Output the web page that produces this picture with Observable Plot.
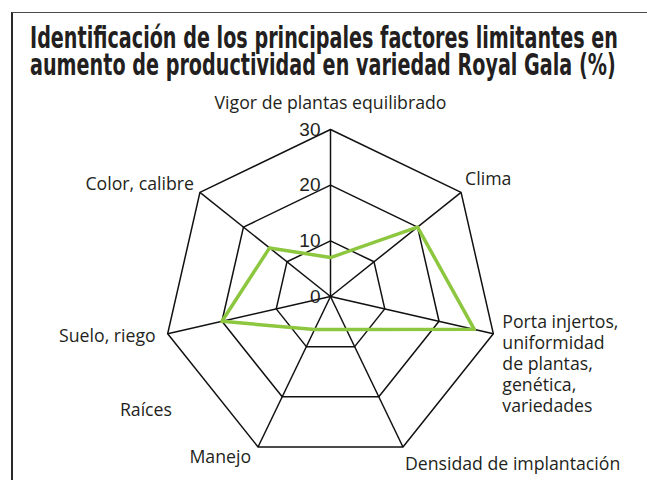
<!DOCTYPE html>
<html>
<head>
<meta charset="utf-8">
<script src="https://cdn.jsdelivr.net/npm/d3@7"></script>
<script src="https://cdn.jsdelivr.net/npm/@observablehq/plot@0.6"></script>
<style>
  html, body { margin: 0; padding: 0; background: #fff; }
  #wrap { position: relative; width: 647px; height: 480px; overflow: hidden; background: #fff; }
  #frame { position: absolute; left: 11px; top: 12px; width: 700px; height: 500px;
           border-top: 1.5px solid #4a4a4a; border-left: 2px solid #2a2a2a; }
  #title { position: relative; height: 88px; }
  .tl { position: absolute; left: 30px; white-space: nowrap; transform-origin: 0 0;
        font-family: "Liberation Sans Narrow", "DejaVu Sans Condensed", "Liberation Sans", sans-serif;
        font-weight: bold; font-size: 30px; line-height: 27px; color: #231f20; }
  #chart { position: relative; }
</style>
</head>
<body>
<div id="wrap">
  <div id="frame"></div>
  <div id="title">
    <div class="tl" id="t1" style="top:24px">Identificación de los principales factores limitantes en</div>
    <div class="tl" id="t2" style="top:51px">aumento de productividad en variedad Royal Gala (%)</div>
  </div>
  <div id="chart"></div>
</div>
<script>
// ---- data ----
const categories = [
  "Vigor de plantas equilibrado",
  "Clima",
  "Porta injertos,\nuniformidad\nde plantas,\ngenética,\nvariedades",
  "Densidad de implantación",
  "Manejo",
  "Suelo, riego",
  "Color, calibre"
];
const values = [7, 20, 26.5, 6.6, 6.6, 20, 14];
const tickValues = [0, 10, 20, 30];
const extraLabel = "Raíces";

// ---- title fitting ----
(function () {
  const t1 = document.getElementById("t1"), t2 = document.getElementById("t2");
  const s = 588 / t1.getBoundingClientRect().width;
  t1.style.transform = `scaleX(${s})`;
  t2.style.transform = `scaleX(${s})`;
})();

// ---- layout ----
const W = 647, H = 392, cx = 330, cy = 208, Rpx = 167, maxV = 30;
const k = maxV / Rpx; // data units per pixel
const n = categories.length;
const ang = i => (i * 2 * Math.PI) / n;
const px = (i, v) => v * Math.sin(ang(i));
const py = (i, v) => v * Math.cos(ang(i));

const rings = [];
for (const t of tickValues.filter(t => t > 0))
  for (let i = 0; i < n; i++) rings.push({ ring: t, x: px(i, t), y: py(i, t) });

const spokes = categories.map((c, i) => ({ x2: px(i, maxV), y2: py(i, maxV) }));
const series = values.map((v, i) => ({ x: px(i, v), y: py(i, v) }));

// label placement: [dx px, dy px, anchor, lineAnchor]
const labelLayout = [
  [0, -27, "middle", "middle"],
  [4, -14, "start", "middle"],
  [9, -21, "start", "top"],
  [2, 16, "start", "middle"],
  [-7, 9, "end", "middle"],
  [-12, 2, "end", "middle"],
  [-6, -9, "end", "middle"]
];
const labelFont = { fontFamily: "'Open Sans', 'Noto Sans', sans-serif", fontSize: 17.7, fill: "#231f20" };

const labelMarks = categories.map((c, i) => {
  const [dx, dy, anchor, la] = labelLayout[i];
  return Plot.text([c], {
    x: px(i, maxV), y: py(i, maxV), text: d => d, dx, dy,
    textAnchor: anchor, lineAnchor: la, lineHeight: 1.19, ...labelFont
  });
});
// orphan label between "Suelo, riego" and "Manejo"
const midAng = (ang(4) + ang(5)) / 2;
labelMarks.push(Plot.text([extraLabel], {
  x: 190 * k * Math.sin(midAng), y: 190 * k * Math.cos(midAng), text: d => d,
  dx: -10, dy: -5, textAnchor: "end", ...labelFont
}));

const chart = Plot.plot({
  width: W, height: H, margin: 0,
  x: { domain: [-cx * k, (W - cx) * k], axis: null },
  y: { domain: [-(H - cy) * k, cy * k], axis: null },
  style: { background: "transparent", overflow: "visible" },
  marks: [
    Plot.link(spokes, { x1: 0, y1: 0, x2: "x2", y2: "y2", stroke: "#111", strokeWidth: 1.5 }),
    Plot.line(rings, { x: "x", y: "y", z: "ring", curve: "linear-closed", stroke: "#111", strokeWidth: 1.5 }),
    Plot.line(series, { x: "x", y: "y", curve: "linear-closed", stroke: "#8dc63f", strokeWidth: 3.5 }),
    Plot.text(tickValues, {
      x: 0, y: d => d, text: d => String(d), textAnchor: "end", dx: -10, dy: 0,
      fontFamily: "'Liberation Sans', Arial, sans-serif", fontSize: 19, fill: "#231f20"
    }),
    ...labelMarks
  ]
});
document.getElementById("chart").appendChild(chart);
</script>
</body>
</html>
